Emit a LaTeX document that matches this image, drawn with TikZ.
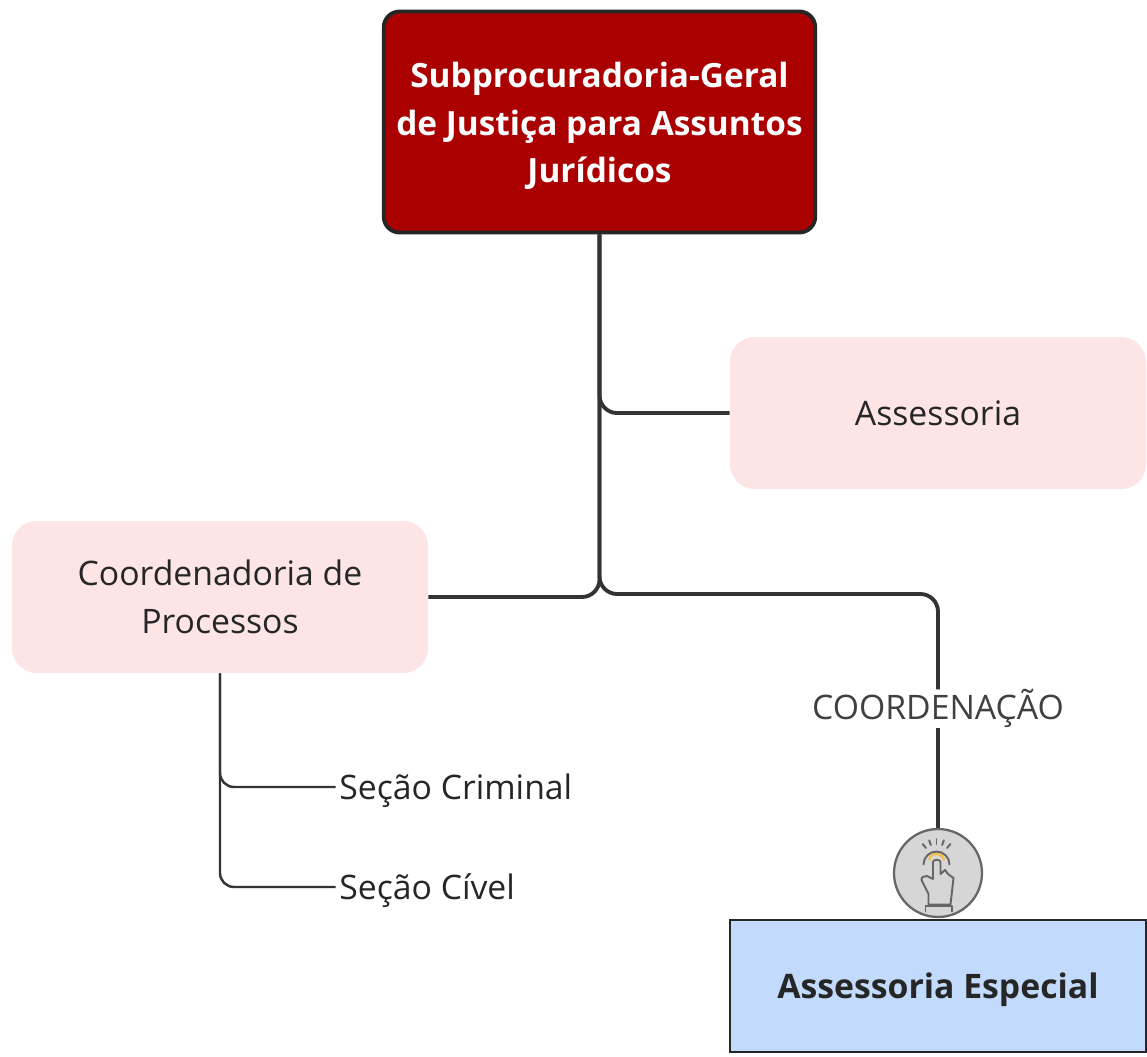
\documentclass[tikz,border=0pt]{standalone}
\usepackage{fontspec}
\usetikzlibrary{calc}
\setmainfont{Open Sans}
\definecolor{darkred}{HTML}{AA0000}
\definecolor{palepink}{HTML}{FDE5E5}
\definecolor{paleblue}{HTML}{C2DAFB}
\definecolor{linegray}{HTML}{333333}
\definecolor{icongray}{HTML}{D6D6D6}
\definecolor{iconyellow}{HTML}{F2C14E}
\tikzset{
	mainbox/.style={draw=black!85, line width=2.2pt, rounded corners=9pt, fill=darkred, text=white, font=\fontsize{19}{27}\selectfont\bfseries, align=center, minimum width=8.63cm, minimum height=4.42cm},
	softbox/.style={fill=palepink, rounded corners=14pt, font=\fontsize{19.2}{27}\selectfont, align=center, minimum width=8.32cm, minimum height=3.04cm, text=black!85},
	bluebox/.style={draw=black!85, line width=.9pt, fill=paleblue, font=\fontsize{19.2}{27}\selectfont\bfseries, minimum width=8.32cm, minimum height=2.64cm, text=black!85, text depth=0pt},
	sectext/.style={font=\fontsize{19.2}{27}\selectfont, inner sep=2pt, text=black!85, text depth=0pt},
	conn/.style={draw=linegray, line width=2.2pt, rounded corners=10pt},
	thinconn/.style={draw=linegray, line width=1.4pt, rounded corners=8pt},
	iconline/.style={draw=black!60, line width=1.1pt, line cap=round, line join=round}
}
\begin{document}
\begin{tikzpicture}

	\useasboundingbox (0,0) rectangle (22.94,-21.12);

	\node [mainbox] (sub) at (11.99,-2.44) {\rule{0pt}{19pt}Subprocuradoria-Geral\\de Justiça para Assuntos\\Jurídicos};

	\node [softbox] (ass) at (18.76,-8.26) {Assessoria};

	\node [softbox] (coo) at (4.4,-11.94) {Coordenadoria de\\Processos};

	\node [bluebox] (esp) at (18.76,-19.72) {Assessoria Especial};

	\node [circle, draw=black!60, line width=1.3pt, fill=icongray, minimum size=1.76cm, inner sep=0pt] (ico) at (18.76,-17.46) {};

	\node [sectext, anchor=west] (cri) at (6.71,-15.74) {Seção Criminal};

	\node [sectext, anchor=west] (civ) at (6.71,-17.74) {Seção Cível};


	\draw [conn] (sub.south) |- (ass.west);

	\draw [conn] (sub.south) |- (coo.east);

	\draw [conn] (sub.south) -- (11.99,-11.88) -- (18.76,-11.88) -- (ico.north) node [pos=.49, fill=white, inner xsep=2pt, inner ysep=0pt, text=black!75, font=\fontsize{19.2}{27}\selectfont] (lab) {COORDENAÇÃO};

	\draw [thinconn] (coo.south) |- (cri.west);

	\draw [thinconn] (coo.south) |- (civ.west);

	% hand on the button
	\begin{scope}[shift={(ico.center)}]
	\draw [iconline] (-.1,-.12) -- (-.1,.22) to [out=90, in=90] (.05,.22) -- (.05,-.02) -- (.14,.06) -- (.2,-.02) -- (.31,-.1) -- (.25,-.63) -- (-.19,-.63) -- (-.19,-.42) -- (-.33,-.14) to [out=110, in=170] (-.22,-.06) -- (-.1,-.12);
	\draw [iconline] (-.25,-.77) -- (-.25,-.66) -- (.28,-.66) -- (.28,-.77);
	\draw [draw=iconyellow, line width=1.5pt, line cap=round] (-.17,.27) arc (170:10:.145);
	\draw [iconline] (-.29,.17) arc (180:0:.26);
	\foreach \a in {50,70,90,110,130}
		\draw [iconline] ($(-.03,.25)+(\a:.33)$) -- ($(-.03,.25)+(\a:.43)$);
	\end{scope}

\end{tikzpicture}
\end{document}
